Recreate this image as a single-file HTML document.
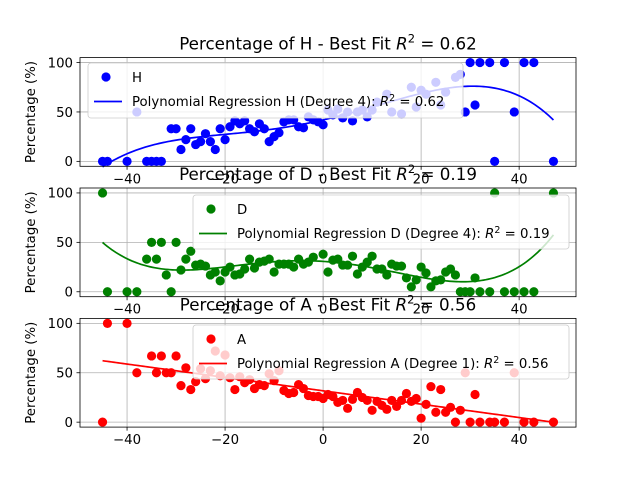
<!DOCTYPE html>
<html><head><meta charset="utf-8">
<style>
html,body{margin:0;padding:0;background:#fff;}
svg{display:block;font-family:"DejaVu Sans","Liberation Sans",sans-serif;}
</style></head>
<body>
<svg id="fig" width="640" height="480" viewBox="0 0 640 480" xmlns="http://www.w3.org/2000/svg"></svg>
<script>
const xH=[-45,-44,-40,-38,-36,-35,-34,-33,-31,-30,-29,-28,-27,-26,-25,-24,-23,-22,-21,-20,-19,-18,-17,-16,-15,-14,-13,-12,-11,-10,-9,-8,-7,-6,-5,-4,-3,-2,-1,0,1,2,3,4,5,6,7,8,9,10,11,13,14,16,18,19,20,21,23,24,25,27,28,29,30,31,32,34,35,37,39,41,43,47];
const yH=[0,0,0,50,0,0,0,0,33,33,12,22,33,17,20,28,20,12,33,22,35,41,38,41,33,30,38,33,20,25,29,40,42,42,35,34,45,42,40,37,52,47,53,44,50,41,50,52,45,52,60,68,50,48,75,55,72,68,80,57,70,85,88,50,100,57,100,100,0,100,50,100,100,0];
const xD=[-45,-44,-40,-38,-36,-35,-34,-33,-32,-31,-30,-29,-28,-27,-26,-25,-24,-23,-22,-21,-20,-19,-18,-17,-16,-15,-14,-13,-12,-11,-10,-9,-8,-7,-6,-5,-4,-3,-2,0,1,2,3,4,5,6,7,8,9,10,11,12,13,14,15,16,17,18,19,20,21,22,23,24,25,26,27,28,29,30,31,32,34,35,37,39,41,43,47];
const yD=[100,0,0,0,33,50,33,50,17,0,50,22,33,41,27,28,26,17,20,11,20,25,17,18,23,33,24,30,31,33,20,28,28,28,25,33,28,30,35,38,20,32,33,27,27,36,18,25,30,36,23,23,17,28,26,26,14,5,12,25,19,5,11,12,20,23,17,0,0,0,14,0,0,100,0,0,0,0,100];
const xA=[-45,-44,-40,-38,-35,-34,-33,-32,-31,-30,-29,-28,-27,-26,-25,-24,-23,-22,-21,-20,-19,-18,-17,-16,-15,-14,-13,-12,-11,-10,-9,-8,-7,-6,-5,-4,-3,-2,-1,0,1,2,3,4,5,6,7,8,9,10,11,12,13,14,15,16,17,18,19,20,21,22,23,24,25,26,27,28,29,30,31,32,34,35,37,39,41,43,47];
const yA=[0,100,100,50,67,50,67,50,50,67,37,55,33,41,54,44,52,72,47,68,45,33,46,40,43,34,38,37,49,42,52,32,29,30,38,34,27,26,26,24,28,26,20,22,14,23,30,25,22,12,21,17,13,22,16,22,29,21,24,4,18,36,10,33,10,15,0,12,50,0,28,0,0,0,0,50,0,0,0];
const xTicks=[-40,-20,0,20,40];
const yTicks=[0,50,100];
const titles=["Percentage of H - Best Fit ","Percentage of D - Best Fit ","Percentage of A - Best Fit "];
const r2Labels=["0.62","0.19","0.56"];
const seriesNames=["H","D","A"];
const degrees=[4,4,1];

const NS="http://www.w3.org/2000/svg";
const svg=document.getElementById('fig');
function mk(tag,attrs,parent){const e=document.createElementNS(NS,tag);for(const k in attrs)e.setAttribute(k,attrs[k]);(parent||svg).appendChild(e);return e;}

function polyfit(xs,ys,deg){
  const n=deg+1, s=50;
  const A=[];for(let i=0;i<n;i++){A.push(new Array(n+1).fill(0));}
  for(let k=0;k<xs.length;k++){const x=xs[k]/s;
    for(let i=0;i<n;i++){for(let j=0;j<n;j++)A[i][j]+=Math.pow(x,i+j);A[i][n]+=ys[k]*Math.pow(x,i);}}
  for(let i=0;i<n;i++){let p=i;for(let r=i+1;r<n;r++)if(Math.abs(A[r][i])>Math.abs(A[p][i]))p=r;[A[i],A[p]]=[A[p],A[i]];
    for(let r=0;r<n;r++){if(r===i)continue;const f=A[r][i]/A[i][i];for(let c=i;c<=n;c++)A[r][c]-=f*A[i][c];}}
  const co=A.map((row,i)=>row[n]/row[i]);
  return x=>{let v=0;for(let i=0;i<n;i++)v+=co[i]*Math.pow(x/s,i);return v;};
}

const L=80,R=576,xmin=-49.6,xmax=51.6;
const tops=[57.6,188,318.4],H=108.7;
const colors=["#0000ff","#008000","#ff0000"];
const xsAll=[xH,xD,xA],ysAll=[yH,yD,yA];
const legends=[{x:88,y:63,w:375,h:55},{x:193,y:195,w:376,h:54},{x:193,y:325,w:376,h:54}];

for(let p=0;p<3;p++){
  const T=tops[p],B=T+H;
  const sx=v=>L+(v-xmin)/(xmax-xmin)*(R-L);
  const sy=v=>B-(v+5)/110*H;
  const g=mk('g',{});
  
  
  xTicks.forEach(t=>{const l=mk('line',{x1:sx(t),x2:sx(t),y1:T,y2:B,stroke:'#b0b0b0','stroke-width':0.8},g);});
  yTicks.forEach(t=>{const l=mk('line',{x1:L,x2:R,y1:sy(t),y2:sy(t),stroke:'#b0b0b0','stroke-width':0.8},g);});
  const xs=xsAll[p],ys=ysAll[p];
  xs.forEach((x,i)=>{const c=mk('circle',{cx:sx(x),cy:sy(ys[i]),r:4.6,fill:colors[p]},g);});
  const f=polyfit(xs,ys,degrees[p]);
  const x0=Math.min(...xs),x1=Math.max(...xs);let d='';
  for(let k=0;k<=200;k++){const x=x0+(x1-x0)*k/200;d+=(k?'L':'M')+sx(x).toFixed(2)+','+sy(f(x)).toFixed(2);}
  const fl=mk('path',{d:d,fill:'none',stroke:colors[p],'stroke-width':1.7},g);
  
  const fr=mk('rect',{x:L,y:T,width:R-L,height:H,fill:'none',stroke:'#000','stroke-width':0.8},g);
  
  xTicks.forEach(t=>{mk('line',{x1:sx(t),x2:sx(t),y1:B,y2:B+3.5,stroke:'#000','stroke-width':0.8},g);
    const tx=mk('text',{x:sx(t),y:B+17,'font-size':13.3,'text-anchor':'middle',fill:'#000'},g);tx.textContent=(t<0?'\u2212':'')+Math.abs(t);
    });
  yTicks.forEach(t=>{mk('line',{x1:L,x2:L-3.5,y1:sy(t),y2:sy(t),stroke:'#000','stroke-width':0.8},g);
    const tx=mk('text',{x:L-7,y:sy(t)+4.8,'font-size':13.3,'text-anchor':'end',fill:'#000'},g);tx.textContent=t;
    });
  const yl=mk('text',{x:0,y:0,'font-size':13.3,'text-anchor':'middle',transform:`translate(35,${T+H/2}) rotate(-90)`},g);
  yl.textContent='Percentage (%)';
  const lg=legends[p];
  const lgg=mk('g',{},g);
  mk('rect',{x:lg.x,y:lg.y,width:lg.w,height:lg.h,rx:3,fill:'#fff','fill-opacity':0.8,stroke:'#cccccc','stroke-width':0.8},lgg);
  mk('circle',{cx:lg.x+18,cy:lg.y+14,r:4.6,fill:colors[p]},lgg);
  const t1=mk('text',{x:lg.x+44,y:lg.y+19,'font-size':13.3},lgg);t1.textContent=seriesNames[p];
  mk('line',{x1:lg.x+6,x2:lg.x+34,y1:lg.y+38.5,y2:lg.y+38.5,stroke:colors[p],'stroke-width':1.7},lgg);
  const t2=mk('text',{x:lg.x+44,y:lg.y+43,'font-size':13.3},lgg);
  t2.innerHTML=`Polynomial Regression ${seriesNames[p]} (Degree ${degrees[p]}): <tspan font-style="italic">R</tspan><tspan dy="-5" font-size="9.5">2</tspan><tspan dy="5"> = ${r2Labels[p]}</tspan>`;
  const tt=mk('text',{x:(L+R)/2,y:T-8,'font-size':16.7,'text-anchor':'middle'},g);
  tt.innerHTML=`${titles[p]}<tspan font-style="italic">R</tspan><tspan dy="-7" font-size="11.5">2</tspan><tspan dy="7"> = ${r2Labels[p]}</tspan>`;
  
}
</script>
</body></html>
